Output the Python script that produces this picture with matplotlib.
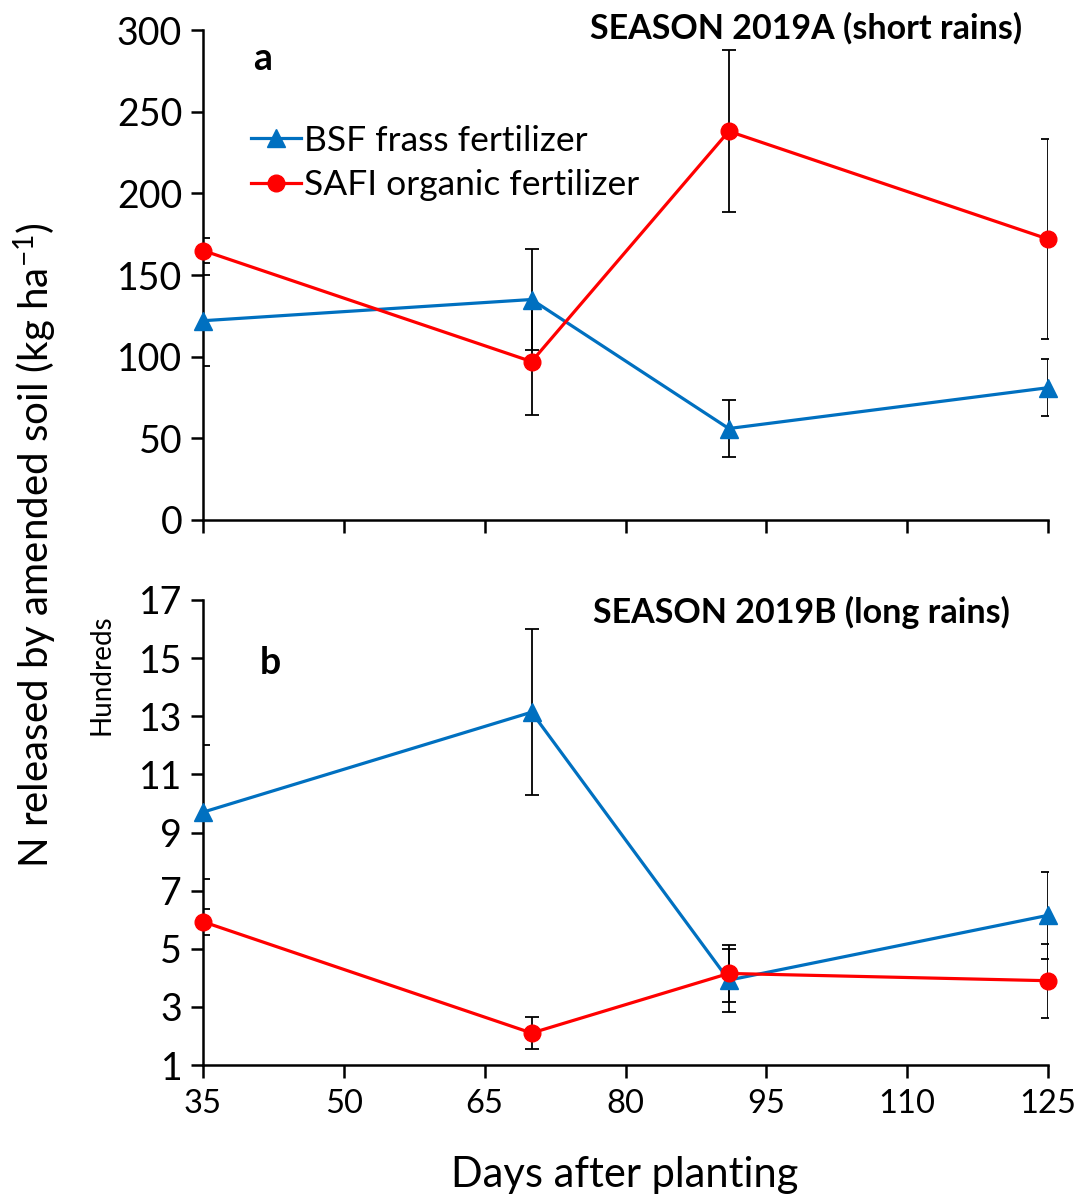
import matplotlib
matplotlib.use("Agg")
import matplotlib.pyplot as plt
from matplotlib.ticker import FuncFormatter

plt.rcParams['font.family'] = ['Lato', 'DejaVu Sans']
plt.rcParams['mathtext.fontset'] = 'custom'
plt.rcParams['mathtext.rm'] = 'Lato'
plt.rcParams['mathtext.default'] = 'regular'

days = [35, 70, 91, 125]
# Season 2019A (kg/ha)
bsf_a = [122, 135, 56, 81]
bsf_a_err = [28, 31, 17.5, 17.5]
safi_a = [165, 97, 238, 172]
safi_a_err = [7.5, 33, 49.5, 61]
# Season 2019B (kg/ha)
bsf_b = [970, 1314, 392, 615]
bsf_b_err = [230, 285, 108, 150]
safi_b = [593, 210, 415, 390]
safi_b_err = [45, 55, 97, 127]

x_ticks = [35, 50, 65, 80, 95, 110, 125]
ya_ticks = [0, 50, 100, 150, 200, 250, 300]
yb_ticks = [100, 300, 500, 700, 900, 1100, 1300, 1500, 1700]

BLUE = '#0070C0'
RED = '#FF0000'

fig = plt.figure(figsize=(10.76, 11.98), dpi=100)
W, H = 1076, 1198
axA = fig.add_axes([203 / W, 1 - 520 / H, (1048 - 203) / W, (520 - 30) / H])
axB = fig.add_axes([203 / W, 1 - 1065 / H, (1048 - 203) / W, (1065 - 600) / H])

def draw(ax, bsf, bsf_err, safi, safi_err):
    ax.errorbar(days, bsf, yerr=bsf_err, fmt='none', ecolor='black', elinewidth=1.3,
                capsize=5, capthick=1.3, zorder=2)
    ax.errorbar(days, safi, yerr=safi_err, fmt='none', ecolor='black', elinewidth=1.3,
                capsize=5, capthick=1.3, zorder=2)
    ax.plot(days, bsf, color=BLUE, lw=2.3, marker='^', ms=13, zorder=3,
            label='BSF frass fertilizer', clip_on=False)
    ax.plot(days, safi, color=RED, lw=2.3, marker='o', ms=12, zorder=4,
            label='SAFI organic fertilizer', clip_on=False)
    for s in ['top', 'right']:
        ax.spines[s].set_visible(False)
    for s in ['left', 'bottom']:
        ax.spines[s].set_linewidth(1.8)
    ax.set_xlim(35, 125)
    ax.set_xticks(x_ticks)
    ax.tick_params(axis='both', direction='out', length=9, width=1.8, pad=6)
    ax.tick_params(axis='y', labelsize=27)
    ax.tick_params(axis='x', labelsize=23.5, pad=8)

draw(axA, bsf_a, bsf_a_err, safi_a, safi_a_err)
axA.set_ylim(0, 300)
axA.set_yticks(ya_ticks)
axA.tick_params(axis='x', labelbottom=False)
fig.text(1022 / W, 1 - 28 / H, 'SEASON 2019A (short rains)',
         ha='right', va='center', fontsize=24.5, fontweight='bold')
axA.text(0.07, 0.94, 'a', transform=axA.transAxes, ha='center', va='center',
         fontsize=27, fontweight='bold')
axA.legend(loc='upper left', bbox_to_anchor=(0.04, 0.836), frameon=False, fontsize=25.5,
           handlelength=1.4, handletextpad=0.1, labelspacing=0.35, borderaxespad=0)

draw(axB, bsf_b, bsf_b_err, safi_b, safi_b_err)
axB.set_ylim(100, 1700)
axB.set_yticks(yb_ticks)
axB.yaxis.set_major_formatter(FuncFormatter(lambda v, p: f'{v / 100:.0f}'))
fig.text(1010 / W, 1 - 612 / H, 'SEASON 2019B (long rains)',
         ha='right', va='center', fontsize=24.5, fontweight='bold')
axB.text(0.08, 0.865, 'b', transform=axB.transAxes, ha='center', va='center',
         fontsize=27, fontweight='bold')
fig.text(101 / W, 1 - 675 / H, 'Hundreds', rotation=90, ha='center', va='center', fontsize=20)

fig.text(625 / W, 1 - 1175 / H, 'Days after planting', ha='center', va='center', fontsize=30)
fig.text(35 / W, 1 - 545 / H, 'N released by amended soil (kg ha$^{-1}$)', rotation=90,
         ha='center', va='center', fontsize=29)

fig.savefig('out.png', dpi=100)
